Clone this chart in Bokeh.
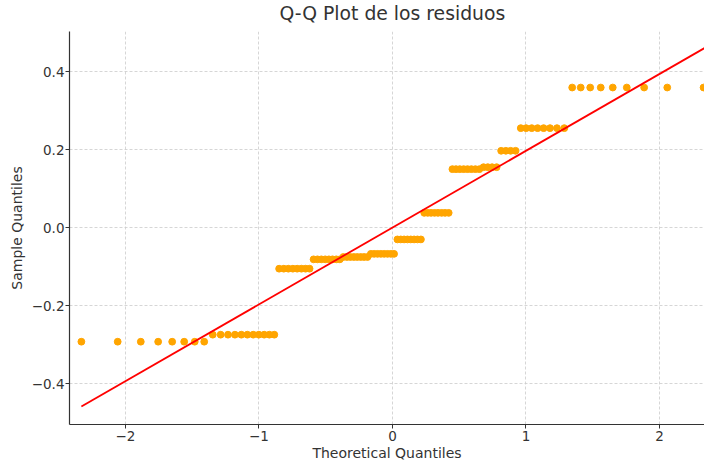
from bokeh.plotting import figure
from bokeh.models import Range1d, FixedTicker, Title
from bokeh.embed import file_html
from bokeh.resources import INLINE

# Theoretical quantiles (x)
theo_q = [-2.330, -2.058, -1.885, -1.755, -1.650, -1.560, -1.481, -1.410,
          -1.346, -1.287, -1.232, -1.180, -1.132, -1.087, -1.043, -1.001, -0.961, -0.922, -0.885,
          -0.849, -0.814, -0.780, -0.746, -0.714, -0.682, -0.651, -0.621,
          -0.591, -0.562, -0.533, -0.504, -0.476, -0.449, -0.421, -0.394,
          -0.368, -0.341, -0.315, -0.289, -0.264, -0.238, -0.213, -0.187,
          -0.162, -0.137, -0.112, -0.087, -0.062, -0.037, -0.012, 0.012,
          0.037, 0.062, 0.087, 0.112, 0.137, 0.162, 0.187, 0.213,
          0.238, 0.264, 0.289, 0.315, 0.341, 0.368, 0.394, 0.421,
          0.449, 0.476, 0.504, 0.533, 0.562, 0.591, 0.621, 0.651,
          0.682, 0.714, 0.746, 0.780,
          0.814, 0.849, 0.885, 0.922,
          0.961, 1.001, 1.043, 1.087, 1.132, 1.180, 1.232, 1.287,
          1.346, 1.410, 1.481, 1.560, 1.650, 1.755, 1.885, 2.058, 2.330]

# Sample quantiles (y)
sample_q = ([-0.292] * 8 + [-0.274] * 11 + [-0.105] * 8 + [-0.081] * 8 +
            [-0.075] * 8 + [-0.067] * 8 + [-0.030] * 8 + [0.038] * 8 +
            [0.150] * 8 + [0.155] * 4 + [0.197] * 4 + [0.255] * 8 + [0.359] * 9)

# Reference line end points
line_x = [-2.330, 2.337]
line_y = [-0.458, 0.460]

x_ticks = [-2, -1, 0, 1, 2]
x_tick_labels = ["\u22122", "\u22121", "0", "1", "2"]
y_ticks = [-0.4, -0.2, 0.0, 0.2, 0.4]
y_tick_labels = ["\u22120.4", "\u22120.2", "0.0", "0.2", "0.4"]

FONT = "DejaVu Sans"
TXT = "#333333"

p = figure(frame_width=635, frame_height=393,
           x_range=Range1d(-2.419, 2.337), y_range=Range1d(-0.504, 0.5025),
           output_backend="svg", toolbar_location=None,
           min_border_left=0, min_border_right=0, min_border_top=0, min_border_bottom=0)

p.title.text = "Q-Q Plot de los residuos"
p.title.align = "left"
p.title.offset = 210
p.title.text_font = FONT
p.title.text_font_size = "18.8px"
p.title.text_font_style = "normal"
p.title.text_color = TXT
p.title.standoff = 0

# small spacers above the title and left of the y axis label
p.add_layout(Title(text=" ", text_font_size="5px", standoff=0), "above")
p.add_layout(Title(text=" ", text_font_size="3px", standoff=0), "left")

p.outline_line_color = None

p.scatter(theo_q, sample_q, size=6.8, color="orange", line_color="orange")
p.line(line_x, line_y, color="red", line_width=1.8)

p.xaxis.ticker = FixedTicker(ticks=x_ticks)
p.yaxis.ticker = FixedTicker(ticks=y_ticks)
p.xaxis.major_label_overrides = dict(zip(x_ticks, x_tick_labels))
p.yaxis.major_label_overrides = dict(zip(y_ticks, y_tick_labels))

for ax in (p.xaxis, p.yaxis):
    ax.axis_line_color = TXT
    ax.axis_line_width = 1.2
    ax.major_tick_line_color = TXT
    ax.major_tick_out = 4
    ax.major_tick_in = 0
    ax.minor_tick_line_color = None
    ax.major_label_text_font = FONT
    ax.major_label_text_font_size = "13.5px"
    ax.major_label_text_color = TXT
    ax.axis_label_text_font = FONT
    ax.axis_label_text_font_size = "14px"
    ax.axis_label_text_font_style = "normal"
    ax.axis_label_text_color = TXT

p.xaxis.axis_label = "Theoretical Quantiles"
p.yaxis.axis_label = "Sample Quantiles"
p.xaxis.major_label_standoff = 2
p.xaxis.axis_label_standoff = 1
p.yaxis.major_label_standoff = 1
p.yaxis.axis_label_standoff = 4

p.xgrid.ticker = FixedTicker(ticks=x_ticks)
p.ygrid.ticker = FixedTicker(ticks=y_ticks)
p.grid.grid_line_color = "#cccccc"
p.grid.grid_line_dash = "3 2"
p.grid.grid_line_width = 0.8

open("out.html", "w").write(file_html(p, INLINE))
